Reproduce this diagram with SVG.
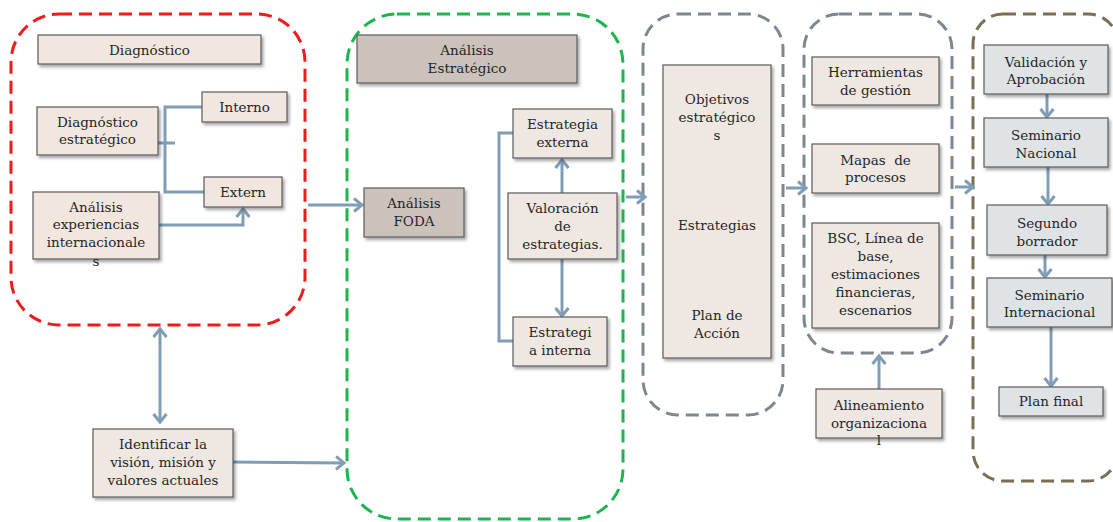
<svg xmlns="http://www.w3.org/2000/svg" width="1113" height="522" viewBox="0 0 1113 522">
  <style>
    .t { font-family: "DejaVu Serif", "Liberation Serif", serif; font-size: 13.5px; fill: #262626; text-anchor: middle; }
    .box { stroke: #5a5a5a; stroke-width: 1.2; filter: url(#shadow); }
    .beige { fill: #f2e7de; }
    .cream { fill: #efe8e2; }
    .taupe { fill: #cbc2bc; }
    .mist { fill: #dfe3e6; }
    .frame { fill: none; stroke-width: 3; stroke-dasharray: 13 7; }
    .conn { fill: none; stroke: #7f9db5; stroke-width: 3; }
  </style>
  <defs>
    <filter id="shadow" x="-20%" y="-20%" width="140%" height="150%">
      <feDropShadow dx="2" dy="2.5" stdDeviation="1.8" flood-color="#000" flood-opacity="0.35"/>
    </filter>
    <marker id="arr" markerUnits="userSpaceOnUse" markerWidth="16" markerHeight="16" viewBox="0 0 16 16" refX="12" refY="8" orient="auto-start-reverse">
      <path d="M4,1.5 L12,8 L4,14.5" fill="none" stroke="#7f9db5" stroke-width="3"/>
    </marker>
    <clipPath id="clipExtern">
      <rect x="200" y="170" width="90" height="43"/>
    </clipPath>
  </defs>

  <!-- phase frames -->
  <g id="frames">
    <rect class="frame" x="11" y="14" width="294" height="311" rx="48" stroke="#ee1c1c"/>
    <rect class="frame" x="347" y="14" width="276" height="505" rx="50" stroke="#1fb54e"/>
    <rect class="frame" x="643" y="14" width="140" height="401" rx="35" stroke="#7d8790"/>
    <rect class="frame" x="804" y="14" width="148" height="339" rx="35" stroke="#7d8790"/>
    <rect class="frame" x="973" y="14" width="145" height="467" rx="30" stroke="#7b6f53"/>
  </g>

  <!-- connectors -->
  <g id="connectors">
    <polyline class="conn" points="202,107 165,107 165,192 204,192"/>
    <line class="conn" x1="158" y1="143" x2="175" y2="143"/>
    <polyline class="conn" points="159,225 243,225 243,209" marker-end="url(#arr)"/>
    <line class="conn" x1="308" y1="205" x2="362" y2="205" marker-end="url(#arr)"/>
    <line class="conn" x1="160" y1="329" x2="160" y2="422" marker-start="url(#arr)" marker-end="url(#arr)"/>
    <line class="conn" x1="233" y1="462" x2="344" y2="463" marker-end="url(#arr)"/>
    <polyline class="conn" points="513,133 499,133 499,341 513,341"/>
    <line class="conn" x1="562" y1="193" x2="562" y2="160" marker-end="url(#arr)"/>
    <line class="conn" x1="562" y1="259" x2="562" y2="316" marker-end="url(#arr)"/>
    <line class="conn" x1="626" y1="197" x2="645" y2="197" marker-end="url(#arr)"/>
    <line class="conn" x1="786" y1="188" x2="806" y2="188" marker-end="url(#arr)"/>
    <line class="conn" x1="955" y1="187" x2="973" y2="187" marker-end="url(#arr)"/>
    <line class="conn" x1="879" y1="389" x2="879" y2="356" marker-end="url(#arr)"/>
    <line class="conn" x1="1047" y1="94" x2="1047" y2="117" marker-end="url(#arr)"/>
    <line class="conn" x1="1048" y1="167" x2="1048" y2="204" marker-end="url(#arr)"/>
    <line class="conn" x1="1045" y1="255" x2="1045" y2="277" marker-end="url(#arr)"/>
    <line class="conn" x1="1051" y1="327" x2="1051" y2="386" marker-end="url(#arr)"/>
  </g>

  <!-- Diagnóstico phase -->
  <g id="diagnostico">
    <rect class="box beige" x="38" y="35" width="223" height="29"/>
    <text class="t" x="149.5" y="54.5">Diagnóstico</text>
  </g>
  <g id="diag-estrategico">
    <rect class="box beige" x="37" y="107" width="121" height="48"/>
    <text class="t" x="97.5" y="126.5">Diagnóstico</text>
    <text class="t" x="97.5" y="144">estratégico</text>
  </g>
  <g id="interno">
    <rect class="box beige" x="202" y="92" width="85" height="30"/>
    <text class="t" x="244.5" y="111.5">Interno</text>
  </g>
  <g id="externo">
    <rect class="box beige" x="204" y="177" width="78" height="30"/>
    <text class="t" x="243" y="196.5">Extern</text>
    <text class="t" x="243" y="220" clip-path="url(#clipExtern)">o</text>
  </g>
  <g id="experiencias">
    <rect class="box beige" x="33" y="192" width="126" height="67"/>
    <text class="t" x="96" y="211.5">Análisis</text>
    <text class="t" x="96" y="229">experiencias</text>
    <text class="t" x="96" y="247">internacionale</text>
    <text class="t" x="96" y="266">s</text>
  </g>
  <g id="identificar">
    <rect class="box cream" x="93" y="429" width="140" height="68"/>
    <text class="t" x="163" y="448.5">Identificar la</text>
    <text class="t" x="163" y="466.5">visión, misión y</text>
    <text class="t" x="163" y="485">valores actuales</text>
  </g>

  <!-- Análisis Estratégico phase -->
  <g id="analisis-estrategico">
    <rect class="box taupe" x="357" y="35" width="220" height="48"/>
    <text class="t" x="467" y="54.5">Análisis</text>
    <text class="t" x="467" y="72.5">Estratégico</text>
  </g>
  <g id="foda">
    <rect class="box taupe" x="364" y="188" width="100" height="49"/>
    <text class="t" x="414" y="207.5">Análisis</text>
    <text class="t" x="414" y="225.5">FODA</text>
  </g>
  <g id="estrategia-externa">
    <rect class="box cream" x="513" y="109" width="99" height="49"/>
    <text class="t" x="562.5" y="128.5">Estrategia</text>
    <text class="t" x="562.5" y="146.5">externa</text>
  </g>
  <g id="valoracion">
    <rect class="box cream" x="508" y="193" width="109" height="66"/>
    <text class="t" x="562.5" y="212.5">Valoración</text>
    <text class="t" x="562.5" y="230.5">de</text>
    <text class="t" x="562.5" y="248.5">estrategias.</text>
  </g>
  <g id="estrategia-interna">
    <rect class="box cream" x="513" y="317" width="94" height="49"/>
    <text class="t" x="560" y="336.5">Estrategi</text>
    <text class="t" x="560" y="354.5">a interna</text>
  </g>

  <!-- Objetivos / Estrategias / Plan -->
  <g id="objetivos">
    <rect class="box cream" x="663" y="65" width="108" height="293"/>
    <text class="t" x="717" y="103.5">Objetivos</text>
    <text class="t" x="717" y="121.5">estratégico</text>
    <text class="t" x="717" y="140">s</text>
    <text class="t" x="717" y="229.5">Estrategias</text>
    <text class="t" x="717" y="319.5">Plan de</text>
    <text class="t" x="717" y="337.5">Acción</text>
  </g>

  <!-- Herramientas phase -->
  <g id="herramientas">
    <rect class="box cream" x="812" y="57" width="127" height="48"/>
    <text class="t" x="875.5" y="76.5">Herramientas</text>
    <text class="t" x="875.5" y="94.5">de gestión</text>
  </g>
  <g id="mapas">
    <rect class="box cream" x="812" y="144" width="127" height="49"/>
    <text class="t" x="875.5" y="164.5" xml:space="preserve">Mapas  de</text>
    <text class="t" x="875.5" y="181.5">procesos</text>
  </g>
  <g id="bsc">
    <rect class="box cream" x="812" y="223" width="127" height="105"/>
    <text class="t" x="875.5" y="242.5">BSC, Línea de</text>
    <text class="t" x="875.5" y="260.5">base,</text>
    <text class="t" x="875.5" y="278.5">estimaciones</text>
    <text class="t" x="875.5" y="296.5">financieras,</text>
    <text class="t" x="875.5" y="314.5">escenarios</text>
  </g>
  <g id="alineamiento">
    <rect class="box cream" x="816" y="389" width="126" height="49"/>
    <text class="t" x="879" y="409.5">Alineamiento</text>
    <text class="t" x="879" y="427.5">organizaciona</text>
    <text class="t" x="879" y="445">l</text>
  </g>

  <!-- Validación phase -->
  <g id="validacion">
    <rect class="box mist" x="984" y="45" width="124" height="49"/>
    <text class="t" x="1046" y="66.5">Validación y</text>
    <text class="t" x="1046" y="83.5">Aprobación</text>
  </g>
  <g id="seminario-nacional">
    <rect class="box mist" x="984" y="118" width="124" height="49"/>
    <text class="t" x="1046" y="139.5">Seminario</text>
    <text class="t" x="1046" y="157.5">Nacional</text>
  </g>
  <g id="segundo-borrador">
    <rect class="box mist" x="987" y="205" width="120" height="50"/>
    <text class="t" x="1047" y="227.5">Segundo</text>
    <text class="t" x="1047" y="245.5">borrador</text>
  </g>
  <g id="seminario-internacional">
    <rect class="box mist" x="987" y="278" width="125" height="49"/>
    <text class="t" x="1049.5" y="299.5">Seminario</text>
    <text class="t" x="1049.5" y="316.5">Internacional</text>
  </g>
  <g id="plan-final">
    <rect class="box mist" x="999" y="387" width="104" height="29"/>
    <text class="t" x="1051" y="405.5">Plan final</text>
  </g>
</svg>
